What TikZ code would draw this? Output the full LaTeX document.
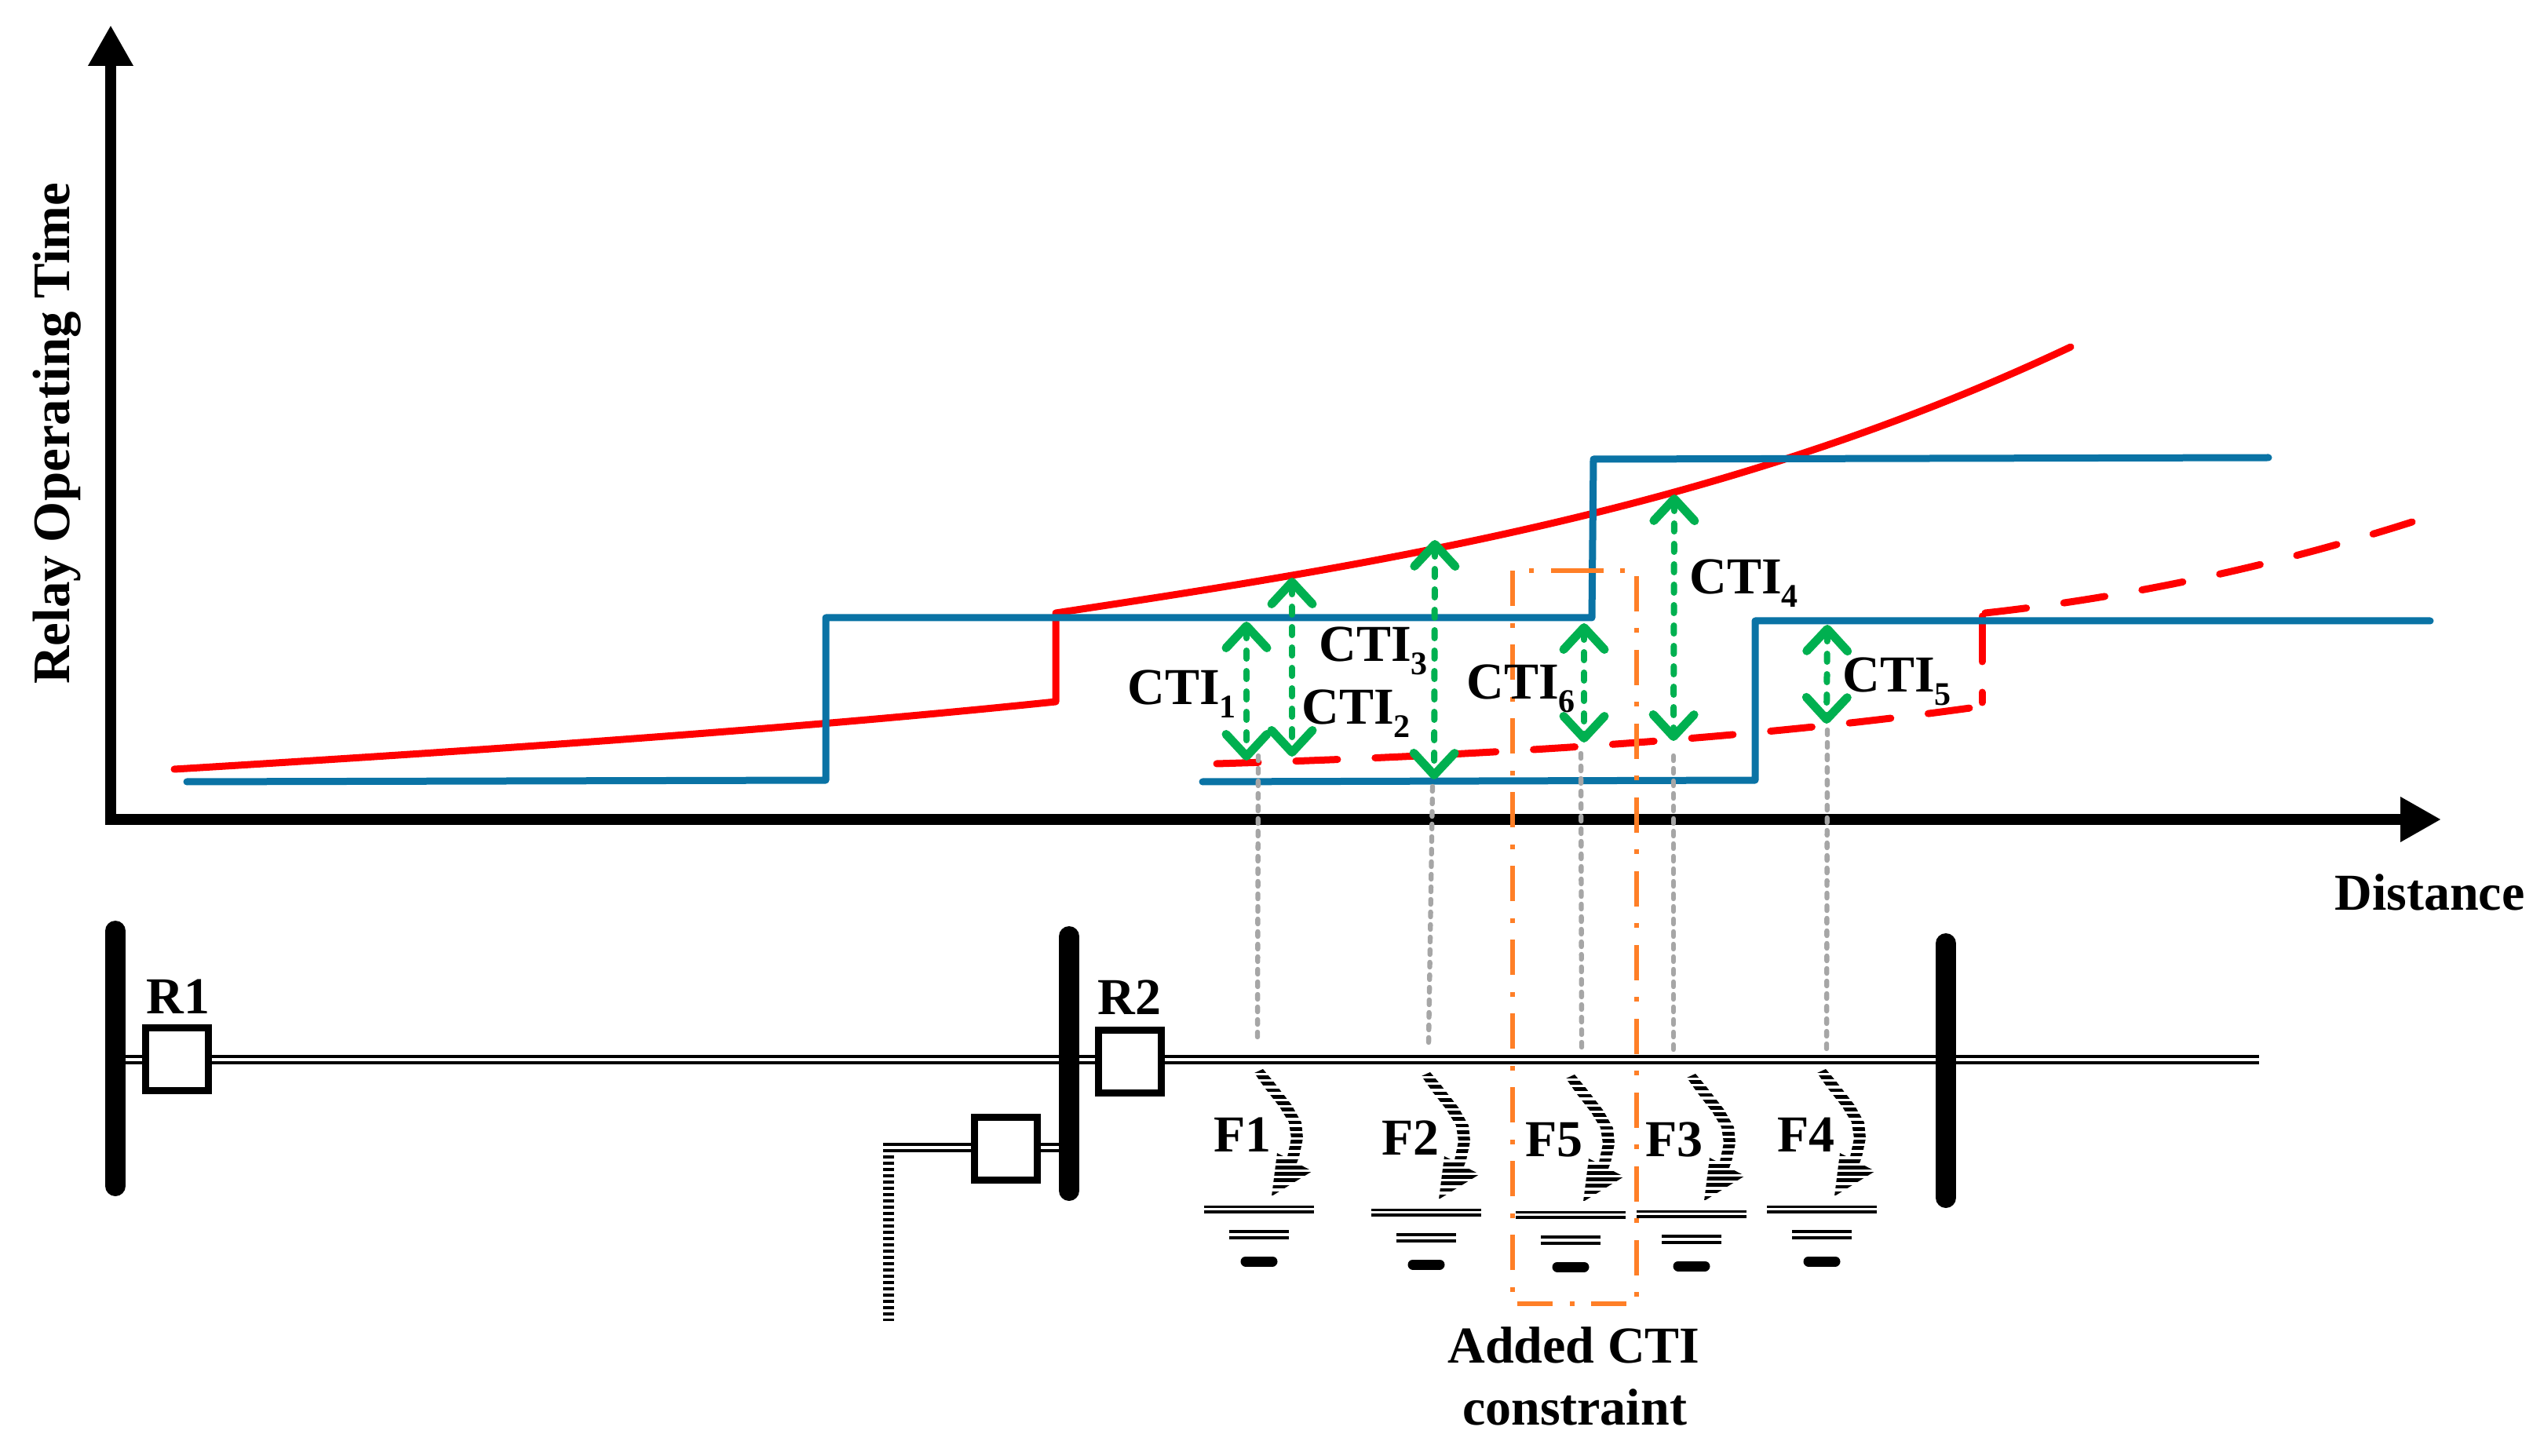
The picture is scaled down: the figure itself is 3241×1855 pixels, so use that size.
\documentclass[tikz,border=0pt]{standalone}
\usepackage{fontspec}
\setmainfont{Liberation Serif}
\usetikzlibrary{arrows.meta}
\definecolor{relayblue}{HTML}{0A73A5}
\definecolor{ctigreen}{HTML}{00B050}
\definecolor{addorange}{HTML}{FF7F27}
\definecolor{guidegray}{HTML}{A6A6A6}
\newcommand{\ctilab}[1]{CTI\raisebox{-8.5pt}{\fontsize{21}{21}\selectfont #1}}
\tikzset{
  axisline/.style={line width=7pt,-{Triangle[length=26pt,width=27pt]}},
  bluecurve/.style={relayblue,line width=4.5pt,line cap=round,line join=round},
  redcurve/.style={red,line width=4.5pt,line cap=round,line join=round},
  reddash/.style={redcurve,dash pattern=on 26.5pt off 24pt},
  ctiarrow/.style={ctigreen,line width=4pt,line cap=round,dash pattern=on 5pt off 8pt,
     {Straight Barb[length=14pt,width=26pt,round,line width=5.5pt]}-{Straight Barb[length=14pt,width=26pt,round,line width=5.5pt]}},
  guide/.style={guidegray,line width=3.2pt,line cap=round,dash pattern=on 3pt off 5pt},
  added/.style={addorange,line width=2.6pt,dash pattern=on 22.5pt off 10.5pt on 3pt off 11pt},
  busbar/.style={line width=13pt,line cap=round},
  wire/.style={line width=2pt},
  relaybox/.style={draw,fill=white,line width=4.5pt,minimum width=40pt,minimum height=40pt,inner sep=0pt},
  lab/.style={font=\fontsize{33}{33}\selectfont\bfseries,inner sep=0pt,anchor=base west},
  midlab/.style={font=\fontsize{33}{33}\selectfont\bfseries,inner sep=0pt,anchor=base},
  faultsym/.pic={
    \begin{scope}
      \clip (5,0) -- (20,18) -- (41,45) -- (54,68) -- (56,88) -- (51,112) -- (46,125)
            -- (30,128) -- (36,112) -- (41,88) -- (38,68) -- (26,48) -- (8,25) -- (-6,5) -- cycle
            (23,107) -- (68,130) -- (16,162) -- cycle;
      \foreach \k in {0,...,19} \fill (-20,{\k*8.2}) rectangle (80,{\k*8.2+4.7});
    \end{scope}
    \draw[line width=1.5pt] (-70,175) -- (70,175);
    \draw[line width=2pt] (-70,182) -- (70,182);
    \draw[line width=2pt] (-38,207) -- (38,207) (-38,215) -- (38,215);
    \draw[line width=6.5pt,line cap=round] (-17,245) -- (17,245);
  }
}
\begin{document}
\begin{tikzpicture}[x=0.5pt,y=-0.5pt]
\useasboundingbox (0,0) rectangle (3241,1855);

% curves
\draw[redcurve] (222,980) .. controls (600,957) and (1000,930) .. (1345,894) -- (1345,781)
   .. controls (1775,716) and (2208,645) .. (2638,442);
\draw[reddash] (1550,973) .. controls (1850,964) and (2200,945) .. (2510,902);
\draw[reddash] (2529,781) .. controls (2720,760) and (2900,720) .. (3073,665);
\draw[redcurve] (2525,785) -- (2525,843) (2525,882) -- (2525,895);
\draw[bluecurve] (238,996) -- (1052,994) -- (1052,787) -- (2028,787) -- (2030,585) -- (2890,583);
\draw[bluecurve] (1532,996) -- (2236,994) -- (2236,791) -- (3096,791);

% axes
\coordinate (origin) at (141,1044);
\coordinate (ytip) at (141,32);
\coordinate (xtip) at (3110,1044);
\draw[axisline] (134,1044) -- (xtip);
\draw[axisline] (141,1050) -- (ytip);

% network lines
\coordinate (bus1top) at (147,1186);
\coordinate (bus1bot) at (147,1511);
\coordinate (bus2top) at (1362,1193);
\coordinate (bus2bot) at (1362,1517);
\coordinate (bus3top) at (2479,1202);
\coordinate (bus3bot) at (2479,1526);
\coordinate (lineendA) at (2878,1346);
\coordinate (lineendB) at (2878,1354);
\coordinate (busstartA) at (147,1346);
\coordinate (busstartB) at (147,1354);
\coordinate (tapA) at (1362,1458);
\coordinate (tapB) at (1362,1466);
\coordinate (cornerA) at (1125,1458);
\coordinate (cornerB) at (1125,1466);
\coordinate (stubtop) at (1132,1456);
\coordinate (stubbot) at (1132,1683);
\draw[wire] (busstartA) -- (lineendA) (busstartB) -- (lineendB);
\draw[wire] (tapA) -- (cornerA) (tapB) -- (cornerB);
\draw[line width=7pt,dash pattern=on 2pt off 2pt] (stubtop) -- (stubbot);
\draw[busbar] (bus1top) -- (bus1bot);
\draw[busbar] (bus2top) -- (bus2bot);
\draw[busbar] (bus3top) -- (bus3bot);
\node[relaybox] (boxA) at (225.5,1349) {};
\node[relaybox] (boxB) at (1439,1352) {};
\node[relaybox] (boxC) at (1281,1463) {};

% guides
\coordinate (gA1) at (1603,963);  \coordinate (gA2) at (1602,1323);
\coordinate (gB1) at (1825,1002); \coordinate (gB2) at (1820,1329);
\coordinate (gC1) at (2014,960);  \coordinate (gC2) at (2015,1338);
\coordinate (gD1) at (2132,963);  \coordinate (gD2) at (2132,1339);
\coordinate (gE1) at (2328,930);  \coordinate (gE2) at (2327,1339);
\draw[guide] (gA1) -- (gA2);
\draw[guide] (gB1) -- (gB2);
\draw[guide] (gC1) -- (gC2);
\draw[guide] (gD1) -- (gD2);
\draw[guide] (gE1) -- (gE2);

% CTI arrows
\coordinate (ca1) at (1588,792);  \coordinate (ca2) at (1588,969);
\coordinate (cb1) at (1646,736);  \coordinate (cb2) at (1646,964);
\coordinate (cc1) at (1828,688);  \coordinate (cc2) at (1827,993);
\coordinate (cd1) at (2133,630);  \coordinate (cd2) at (2132,944);
\coordinate (ce1) at (2328,796);  \coordinate (ce2) at (2327,922);
\coordinate (cf1) at (2018,794);  \coordinate (cf2) at (2018,946);
\draw[ctiarrow] (ca1) -- (ca2);
\draw[ctiarrow] (cb1) -- (cb2);
\draw[ctiarrow] (cc1) -- (cc2);
\draw[ctiarrow] (cd1) -- (cd2);
\draw[ctiarrow] (ce1) -- (ce2);
\draw[ctiarrow] (cf1) -- (cf2);

% fault symbols
\pic at (1604,1362) {faultsym};
\pic at (1817,1366) {faultsym};
\pic at (2001,1369) {faultsym};
\pic at (2155,1368) {faultsym};
\pic at (2321,1362) {faultsym};

% added constraint box
\draw[added] (1998,727) -- (2085,727) -- (2085,1661) -- (1927,1661) -- (1927,727) -- cycle;

% labels
\node[lab,rotate=90,font=\fontsize{33.5}{34}\selectfont\bfseries] (ylab) at (88,872) {Relay Operating Time};
\node[lab] (dist) at (2974,1159) {Distance};
\node[lab] (rA) at (186,1291) {R1};
\node[lab] (rB) at (1398,1292) {R2};
\node[lab] (fA) at (1546,1467) {F1};
\node[lab] (fB) at (1760,1471) {F2};
\node[lab] (fE) at (1943,1473) {F5};
\node[lab] (fC) at (2096,1473) {F3};
\node[lab] (fD) at (2264,1467) {F4};
\node[lab] (t1) at (1436,898) {\ctilab{1}};
\node[lab] (t2) at (1658,923) {\ctilab{2}};
\node[lab] (t3) at (1680,843) {\ctilab{3}};
\node[lab] (t4) at (2152,757) {\ctilab{4}};
\node[lab] (t5) at (2347,882) {\ctilab{5}};
\node[lab] (t6) at (1868,891) {\ctilab{6}};
\node[midlab] (addA) at (2005,1736) {Added CTI};
\node[midlab] (addB) at (2006,1815) {constraint};
\end{tikzpicture}
\end{document}
